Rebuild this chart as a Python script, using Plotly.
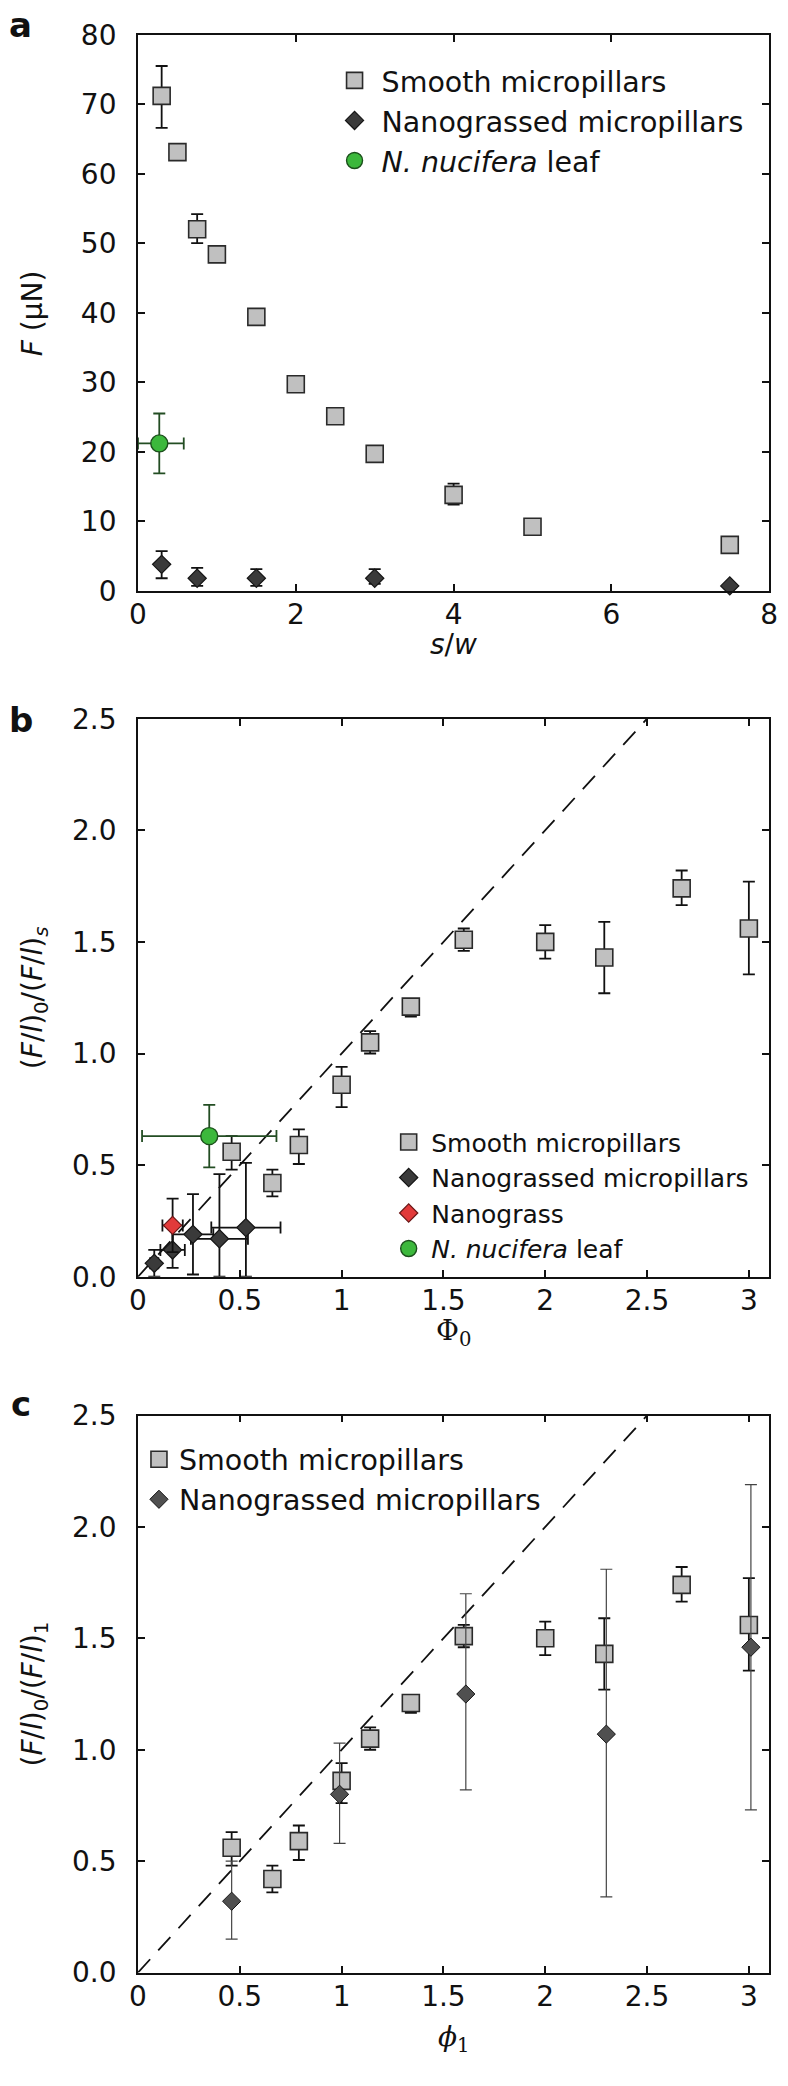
import plotly.graph_objects as go

W, H = 788, 2086

# ---------------- data ----------------
# Panel a : F vs s/w
a_sw_smooth = [0.3, 0.5, 0.75, 1.0, 1.5, 2.0, 2.5, 3.0, 4.0, 5.0, 7.5]
a_F_smooth = [71.2, 63.1, 52.0, 48.4, 39.4, 29.7, 25.1, 19.7, 13.8, 9.2, 6.6]
a_F_smooth_errp = [4.3, 0.6, 2.2, 0.6, 0.6, 0.6, 0.6, 0.6, 1.6, 0.6, 0.6]
a_F_smooth_errm = [4.6, 0.6, 2.0, 0.6, 0.6, 0.6, 0.6, 0.6, 1.4, 0.6, 0.6]

a_sw_nano = [0.3, 0.75, 1.5, 3.0, 7.5]
a_F_nano = [3.8, 1.8, 1.8, 1.8, 0.7]
a_F_nano_errp = [1.9, 1.5, 1.3, 1.3, 0.3]
a_F_nano_errm = [2.0, 1.1, 1.1, 0.8, 0.3]

a_sw_leaf = [0.27]
a_F_leaf = [21.2]
a_F_leaf_err = [4.3]
a_sw_leaf_errp = [0.31]
a_sw_leaf_errm = [0.27]

# Panel b : (F/l)0/(F/l)s vs Phi0
b_phi_smooth = [0.46, 0.66, 0.79, 1.0, 1.14, 1.34, 1.6, 2.0, 2.29, 2.67, 3.0]
b_r_smooth = [0.56, 0.42, 0.59, 0.86, 1.05, 1.21, 1.51, 1.50, 1.43, 1.74, 1.56]
b_r_smooth_errp = [0.07, 0.06, 0.07, 0.08, 0.05, 0.02, 0.05, 0.075, 0.16, 0.08, 0.21]
b_r_smooth_errm = [0.08, 0.06, 0.085, 0.10, 0.05, 0.045, 0.05, 0.075, 0.16, 0.075, 0.205]

b_phi_nano = [0.08, 0.17, 0.27, 0.40, 0.53]
b_r_nano = [0.06, 0.12, 0.19, 0.17, 0.22]
b_r_nano_errp = [0.06, 0.11, 0.18, 0.29, 0.29]
b_r_nano_errm = [0.06, 0.08, 0.18, 0.17, 0.22]
b_phi_nano_err = [0.02, 0.06, 0.10, 0.14, 0.17]

b_phi_grass = [0.17]
b_r_grass = [0.23]
b_r_grass_err = [0.12]
b_phi_grass_err = [0.05]

b_phi_leaf = [0.35]
b_r_leaf = [0.63]
b_r_leaf_err = [0.14]
b_phi_leaf_err = [0.33]

# Panel c : (F/l)0/(F/l)1 vs phi1
c_phi_smooth = b_phi_smooth
c_r_smooth = b_r_smooth
c_r_smooth_errp = b_r_smooth_errp
c_r_smooth_errm = b_r_smooth_errm

c_phi_nano = [0.46, 0.99, 1.61, 2.30, 3.01]
c_r_nano = [0.32, 0.80, 1.25, 1.07, 1.46]
c_r_nano_errp = [0.18, 0.23, 0.45, 0.74, 0.73]
c_r_nano_errm = [0.17, 0.22, 0.43, 0.73, 0.73]

ref_line = [0, 2.5]   # y = x guide line

# ---------------- style ----------------
INK = "#111111"
SM_FILL, SM_LINE = "#c0c0c0", "#2a2a2a"
NG_FILL, NG_LINE = "#3a3a3a", "#151515"
NG_FILL_C = "#505050"
LEAF_FILL, LEAF_LINE, LEAF_ERR = "#3cb83c", "#1c501c", "#234d23"
RED_FILL, RED_LINE = "#e23a3a", "#6a1515"
FONT = "DejaVu Sans"
SERIF = "DejaVu Serif"

X0, X1 = 132, 778
PANELS = {"a": (19, 584), "b": (714, 1281), "c": (1422, 1988)}


def xdom():
    return [X0 / W, X1 / W]


def ydom(top, bot):
    return [1 - bot / H, 1 - top / H]


def px_x(p):
    return p / W


def px_y(p):
    return 1 - p / H


def ebar(color=INK, thick=1.8, width=6, **kw):
    d = dict(type="data", color=color, thickness=thick, width=width, visible=True)
    d.update(kw)
    return d


fig = go.Figure()

# ---- panel a ----
fig.add_trace(go.Scatter(
    x=a_sw_smooth, y=a_F_smooth, mode="markers", name="Smooth micropillars",
    marker=dict(symbol="square", size=17, color=SM_FILL, line=dict(color=SM_LINE, width=1.6)),
    error_y=ebar(array=a_F_smooth_errp, arrayminus=a_F_smooth_errm, symmetric=False),
    xaxis="x", yaxis="y", legend="legend", cliponaxis=False))
fig.add_trace(go.Scatter(
    x=a_sw_nano, y=a_F_nano, mode="markers", name="Nanograssed micropillars",
    marker=dict(symbol="diamond", size=14, color=NG_FILL, line=dict(color=NG_LINE, width=1.2)),
    error_y=ebar(array=a_F_nano_errp, arrayminus=a_F_nano_errm, symmetric=False),
    xaxis="x", yaxis="y", legend="legend", cliponaxis=False))
fig.add_trace(go.Scatter(
    x=a_sw_leaf, y=a_F_leaf, mode="markers", name="<i>N. nucifera</i> leaf",
    marker=dict(symbol="circle", size=17, color=LEAF_FILL, line=dict(color=LEAF_LINE, width=1.4)),
    error_y=ebar(color=LEAF_ERR, array=a_F_leaf_err),
    error_x=ebar(color=LEAF_ERR, array=a_sw_leaf_errp, arrayminus=a_sw_leaf_errm, symmetric=False),
    xaxis="x", yaxis="y", legend="legend", cliponaxis=False))

# ---- panel b ----
fig.add_trace(go.Scatter(
    x=ref_line, y=ref_line, mode="lines", showlegend=False, hoverinfo="skip",
    line=dict(color=INK, width=1.8, dash="18px,12px"), xaxis="x2", yaxis="y2"))
fig.add_trace(go.Scatter(
    x=b_phi_smooth, y=b_r_smooth, mode="markers", name="Smooth micropillars",
    marker=dict(symbol="square", size=17, color=SM_FILL, line=dict(color=SM_LINE, width=1.6)),
    error_y=ebar(array=b_r_smooth_errp, arrayminus=b_r_smooth_errm, symmetric=False),
    xaxis="x2", yaxis="y2", legend="legend2", cliponaxis=False))
fig.add_trace(go.Scatter(
    x=b_phi_nano, y=b_r_nano, mode="markers", name="Nanograssed micropillars",
    marker=dict(symbol="diamond", size=14, color=NG_FILL, line=dict(color=NG_LINE, width=1.2)),
    error_y=ebar(array=b_r_nano_errp, arrayminus=b_r_nano_errm, symmetric=False),
    error_x=ebar(array=b_phi_nano_err),
    xaxis="x2", yaxis="y2", legend="legend2", cliponaxis=False))
fig.add_trace(go.Scatter(
    x=b_phi_grass, y=b_r_grass, mode="markers", name="Nanograss",
    marker=dict(symbol="diamond", size=14, color=RED_FILL, line=dict(color=RED_LINE, width=1.2)),
    error_y=ebar(array=b_r_grass_err),
    error_x=ebar(array=b_phi_grass_err),
    xaxis="x2", yaxis="y2", legend="legend2", cliponaxis=False))
fig.add_trace(go.Scatter(
    x=b_phi_leaf, y=b_r_leaf, mode="markers", name="<i>N. nucifera</i> leaf",
    marker=dict(symbol="circle", size=17, color=LEAF_FILL, line=dict(color=LEAF_LINE, width=1.4)),
    error_y=ebar(color=LEAF_ERR, array=b_r_leaf_err),
    error_x=ebar(color=LEAF_ERR, array=b_phi_leaf_err),
    xaxis="x2", yaxis="y2", legend="legend2", cliponaxis=False))

# ---- panel c ----
fig.add_trace(go.Scatter(
    x=ref_line, y=ref_line, mode="lines", showlegend=False, hoverinfo="skip",
    line=dict(color=INK, width=1.8, dash="18px,12px"), xaxis="x3", yaxis="y3"))
fig.add_trace(go.Scatter(
    x=c_phi_smooth, y=c_r_smooth, mode="markers", name="Smooth micropillars",
    marker=dict(symbol="square", size=17, color=SM_FILL, line=dict(color=SM_LINE, width=1.6)),
    error_y=ebar(array=c_r_smooth_errp, arrayminus=c_r_smooth_errm, symmetric=False),
    xaxis="x3", yaxis="y3", legend="legend3", cliponaxis=False))
fig.add_trace(go.Scatter(
    x=c_phi_nano, y=c_r_nano, mode="markers", name="Nanograssed micropillars",
    marker=dict(symbol="diamond", size=14, color=NG_FILL_C, line=dict(color=NG_LINE, width=1.0)),
    error_y=ebar(color="#444444", thick=1.2, array=c_r_nano_errp, arrayminus=c_r_nano_errm, symmetric=False),
    xaxis="x3", yaxis="y3", legend="legend3", cliponaxis=False))

# ---------------- axes ----------------
tickfont = dict(family=FONT, size=28, color=INK)
axis_common = dict(showline=True, linecolor=INK, linewidth=1.8, mirror="ticks",
                   ticks="inside", ticklen=7, tickwidth=1.5, tickcolor=INK,
                   showgrid=False, zeroline=False, tickfont=tickfont, fixedrange=True)

phi_ticks = [0, 0.5, 1, 1.5, 2, 2.5, 3]
phi_text = ["0", "0.5", "1", "1.5", "2", "2.5", "3"]

XSTAND, YSTAND = -2, 14
fig.update_layout(
    xaxis=dict(domain=xdom(), range=[0, 8], dtick=2, anchor="y", ticklabelstandoff=XSTAND, **axis_common),
    yaxis=dict(domain=ydom(*PANELS["a"]), range=[0, 80], dtick=10, anchor="x", ticklabelstandoff=YSTAND, **axis_common),
    xaxis2=dict(domain=xdom(), range=[0, 3.1], tickvals=phi_ticks, ticktext=phi_text, anchor="y2",
                ticklabelstandoff=XSTAND, **axis_common),
    yaxis2=dict(domain=ydom(*PANELS["b"]), range=[0, 2.5], dtick=0.5, tickformat=".1f", anchor="x2",
                ticklabelstandoff=YSTAND, **axis_common),
    xaxis3=dict(domain=xdom(), range=[0, 3.1], tickvals=phi_ticks, ticktext=phi_text, anchor="y3",
                ticklabelstandoff=XSTAND, **axis_common),
    yaxis3=dict(domain=ydom(*PANELS["c"]), range=[0, 2.5], dtick=0.5, tickformat=".1f", anchor="x3",
                ticklabelstandoff=YSTAND, **axis_common),
)

leg_common = dict(bgcolor="rgba(0,0,0,0)", borderwidth=0, xanchor="left", yanchor="top",
                  itemsizing="trace", traceorder="normal", tracegroupgap=0)
fig.update_layout(
    legend=dict(x=px_x(326), y=px_y(40), itemwidth=44,
                font=dict(family=FONT, size=28.5, color=INK), **leg_common),
    legend2=dict(x=px_x(386), y=px_y(1121), itemwidth=35,
                 font=dict(family=FONT, size=25, color=INK), **leg_common),
    legend3=dict(x=px_x(133), y=px_y(1441), itemwidth=30,
                 font=dict(family=FONT, size=28.5, color=INK), **leg_common),
)

# ---------------- annotations (titles and panel letters) ----------------
ann = []


def text(t, x, y, size=28, family=FONT, angle=0, bold=False):
    ann.append(dict(text=("<b>%s</b>" % t) if bold else t, x=px_x(x), y=px_y(y),
                    xref="paper", yref="paper", showarrow=False, textangle=angle,
                    xanchor="center", yanchor="middle",
                    font=dict(family=family, size=size, color=INK)))


mid_x = (X0 + X1) / 2
text("<i>F</i> (μN)", 24, sum(PANELS["a"]) / 2, angle=-90)
text("(<i>F</i>/<i>l</i>)<sub>0</sub>/(<i>F</i>/<i>l</i>)<sub><i>s</i></sub>", 26, sum(PANELS["b"]) / 2, angle=-90)
text("(<i>F</i>/<i>l</i>)<sub>0</sub>/(<i>F</i>/<i>l</i>)<sub>1</sub>", 26, sum(PANELS["c"]) / 2, angle=-90)
text("<i>s</i>/<i>w</i>", mid_x, 639)
text("Φ<sub>0</sub>", mid_x, 1338, family=SERIF)
text("<i>ϕ</i><sub>1</sub>", mid_x, 2055, family=SERIF)
text("a", 12, 9, size=34, bold=True)
text("b", 12, 715, size=34, bold=True)
text("c", 12, 1410, size=34, bold=True)

fig.update_layout(
    annotations=ann,
    width=W, height=H, margin=dict(l=0, r=0, t=0, b=0),
    paper_bgcolor="white", plot_bgcolor="white",
    font=dict(family=FONT, color=INK),
)

fig.write_html("out.html", config={"displayModeBar": False},
               post_script="document.body.style.margin='0';document.body.style.overflow='hidden';")
